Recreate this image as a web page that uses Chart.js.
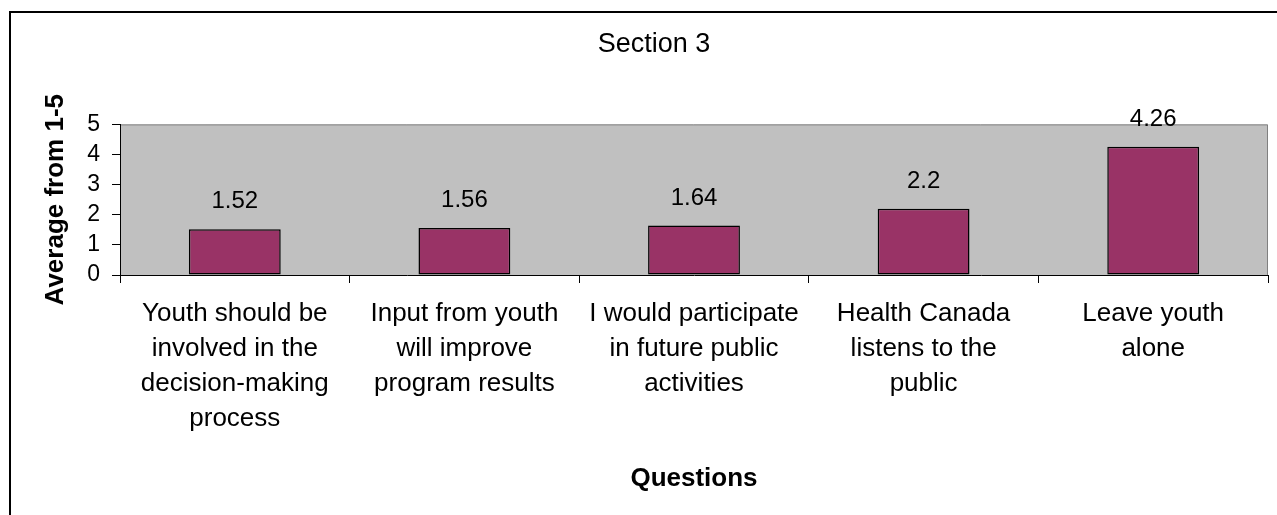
<!DOCTYPE html>
<html>
<head>
<meta charset="utf-8">
<script src="https://cdn.jsdelivr.net/npm/chart.js@4/dist/chart.umd.min.js"></script>
<style>
  html, body { margin: 0; padding: 0; background: #fff; }
  #frame {
    position: absolute; left: 9px; top: 11px; width: 1300px; height: 600px;
    border-top: 2px solid #000; border-left: 2px solid #000;
  }
  #wrap { position: absolute; left: 0; top: 0; width: 1277px; height: 515px; }
</style>
</head>
<body>
<div id="frame"></div>
<div id="wrap"><canvas id="chart" width="1277" height="515"></canvas></div>
<script>
const questions = [
  ["Youth should be", "involved in the", "decision-making", "process"],
  ["Input from youth", "will improve", "program results"],
  ["I would participate", "in future public", "activities"],
  ["Health Canada", "listens to the", "public"],
  ["Leave youth", "alone"]
];
const averages = [1.52, 1.56, 1.64, 2.2, 4.26];
const yTicks = [0, 1, 2, 3, 4, 5];

const FONT = "'Liberation Sans', Arial, sans-serif";

// gray plot background, like the old excel charts
const plotBg = {
  id: "plotBg",
  beforeDraw(chart) {
    const { ctx, chartArea: a } = chart;
    ctx.save();
    ctx.fillStyle = "#C0C0C0";
    ctx.fillRect(a.left, a.top, a.right - a.left, a.bottom - a.top);
    ctx.strokeStyle = "#808080";
    ctx.lineWidth = 1;
    ctx.beginPath();
    ctx.moveTo(a.left, a.top + 0.5);
    ctx.lineTo(a.right - 0.5, a.top + 0.5);
    ctx.lineTo(a.right - 0.5, a.bottom);
    ctx.stroke();
    ctx.restore();
  }
};

const valueLabels = {
  id: "valueLabels",
  afterDatasetsDraw(chart) {
    const { ctx } = chart;
    const meta = chart.getDatasetMeta(0);
    ctx.save();
    ctx.font = "24px " + FONT;
    ctx.fillStyle = "#000";
    ctx.textAlign = "center";
    ctx.textBaseline = "alphabetic";
    meta.data.forEach((bar, i) => {
      ctx.fillText(String(averages[i]), bar.x, bar.y - 21);
    });
    ctx.restore();
  }
};

new Chart(document.getElementById("chart").getContext("2d"), {
  type: "bar",
  data: {
    labels: questions,
    datasets: [{
      data: averages,
      backgroundColor: "#993366",
      borderColor: "#000",
      borderWidth: 1.5,
      borderSkipped: false,
      categoryPercentage: 1,
      barPercentage: 0.4
    }]
  },
  options: {
    responsive: false,
    animation: false,
    layout: { padding: { left: 40, right: 9, top: 0, bottom: 21 } },
    plugins: {
      legend: { display: false },
      tooltip: { enabled: false },
      title: {
        display: true,
        text: "Section 3",
        color: "#000",
        font: { family: FONT, size: 27, weight: "normal" },
        padding: { top: 28, bottom: 64 }
      }
    },
    scales: {
      x: {
        afterFit(scale) { scale.height = 219; },
        grid: { drawOnChartArea: false, tickLength: 8, color: "#000", offset: true },
        border: { display: true, color: "#000", width: 1 },
        ticks: {
          color: "#000", padding: 13, maxRotation: 0, autoSkip: false,
          font: { family: FONT, size: 26, lineHeight: 1.35 }
        },
        title: {
          display: true, text: "Questions", color: "#000", padding: 0,
          font: { family: FONT, size: 26, weight: "bold" }
        }
      },
      y: {
        min: 0, max: 5,
        afterFit(scale) { scale.width = 80; },
        afterBuildTicks(scale) { scale.ticks = yTicks.map(v => ({ value: v })); },
        grid: { drawOnChartArea: false, tickLength: 8, color: "#000" },
        border: { display: true, color: "#000", width: 1 },
        ticks: {
          color: "#000", padding: 12, autoSkip: false,
          font: { family: FONT, size: 23 }
        },
        title: {
          display: true, text: "Average from 1-5", color: "#000", padding: 0,
          font: { family: FONT, size: 26, weight: "bold" }
        }
      }
    }
  },
  plugins: [plotBg, valueLabels]
});
</script>
</body>
</html>
